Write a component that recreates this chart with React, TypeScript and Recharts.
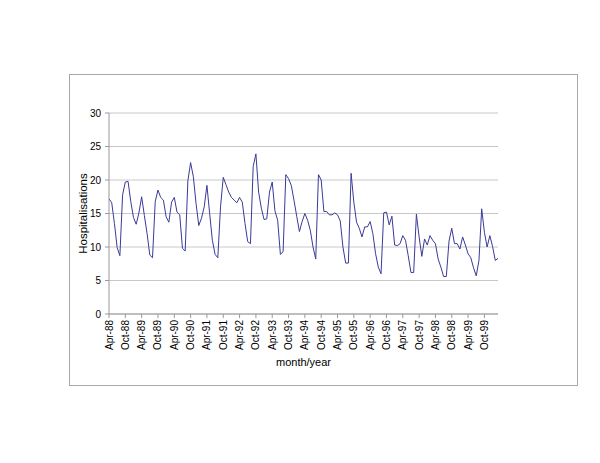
import React from 'react';
import { LineChart, Line, XAxis, YAxis, CartesianGrid } from 'recharts';

// monthly hospitalisations, Apr-88 .. Mar-00
const hospitalisations = [
  17.2, 16.6, 13.5, 9.9, 8.7, 17.8, 19.7, 19.8, 16.8, 14.4, 13.4, 15.1,
  17.5, 14.7, 12.0, 8.8, 8.4, 16.8, 18.5, 17.4, 17.0, 14.5, 13.7, 16.7,
  17.4, 15.2, 14.8, 9.8, 9.4, 19.9, 22.6, 20.5, 16.5, 13.2, 14.3, 16.0,
  19.2, 15.0, 11.0, 8.9, 8.4, 16.0, 20.4, 19.3, 18.2, 17.4, 17.0, 16.6,
  17.4, 16.7, 13.5, 10.8, 10.5, 22.0, 23.9, 18.2, 15.8, 14.1, 14.2, 18.2,
  19.7, 15.4, 14.0, 8.9, 9.3, 20.8, 20.2, 19.2, 17.0, 14.6, 12.3, 13.8,
  15.0, 14.0, 12.5, 10.0, 8.2, 20.8, 20.0, 15.3, 15.3, 14.8, 14.8, 15.1,
  14.8, 13.9, 10.0, 7.6, 7.6, 21.0, 16.7, 13.7, 12.8, 11.5, 13.0, 13.0,
  13.8, 12.0, 9.0, 7.0, 6.0, 15.1, 15.2, 13.3, 14.6, 10.3, 10.2, 10.5,
  11.7, 11.0, 8.7, 6.2, 6.2, 14.9, 11.5, 8.6, 11.2, 10.3, 11.7, 11.0,
  10.5, 8.2, 7.0, 5.6, 5.6, 10.9, 12.8, 10.5, 10.5, 9.7, 11.5, 10.3,
  9.0, 8.4, 6.9, 5.7, 8.0, 15.7, 12.2, 10.0, 11.7, 10.1, 8.0, 8.3,
];

const monthNames = ['Jan', 'Feb', 'Mar', 'Apr', 'May', 'Jun', 'Jul', 'Aug', 'Sep', 'Oct', 'Nov', 'Dec'];
const startYear = 1988;
const startMonth = 3; // April

const categories = hospitalisations.map((_, i) => {
  const m = startMonth + i;
  const yr = (startYear + Math.floor(m / 12)) % 100;
  return `${monthNames[m % 12]}-${String(yr).padStart(2, '0')}`;
});

const yTicks = [0, 5, 10, 15, 20, 25, 30];

const data = categories.map((name, i) => ({ name, value: hospitalisations[i] }));

const FONT = '"Liberation Sans", Arial, sans-serif';

const XTick = ({ x, y, payload }: any) => (
  <text
    x={x}
    y={y}
    transform={`rotate(-90, ${x}, ${y})`}
    textAnchor="end"
    dominantBaseline="central"
    fontSize={10}
    fontFamily={FONT}
    fill="#000"
  >
    {payload.value}
  </text>
);

export default function App() {
  return (
    <div style={{ position: 'absolute', left: 0, top: 0, width: 600, height: 463, background: '#fff' }}>
      <div
        style={{
          position: 'absolute',
          left: 69,
          top: 74,
          width: 509,
          height: 312,
          border: '1px solid #a8a8a8',
          boxSizing: 'border-box',
        }}
      />
      <div style={{ position: 'absolute', left: 0, top: 0 }}>
        <LineChart
          width={600}
          height={463}
          data={data}
          margin={{ top: 113, right: 102, bottom: 97, left: 69 }}
        >
          <CartesianGrid vertical={false} stroke="#c8c8c8" />
          <XAxis
            dataKey="name"
            interval={5}
            height={52}
            tick={<XTick />}
            tickSize={4}
            tickMargin={2}
            axisLine={{ stroke: '#999' }}
            tickLine={{ stroke: '#999' }}
            label={{
              value: 'month/year',
              position: 'insideBottom',
              offset: 0,
              style: { fontSize: 11, fontFamily: FONT, fill: '#000' },
            }}
          />
          <YAxis
            width={40}
            domain={[0, 30]}
            ticks={yTicks}
            tickSize={4}
            tickMargin={4}
            axisLine={{ stroke: '#999' }}
            tickLine={{ stroke: '#999' }}
            tick={{ fontSize: 10, fontFamily: FONT, fill: '#000' }}
            label={{
              value: 'Hospitalisations',
              angle: -90,
              position: 'insideLeft',
              offset: 14,
              style: { fontSize: 11.5, fontFamily: FONT, fill: '#000', textAnchor: 'middle' },
            }}
          />
          <YAxis
            yAxisId="right"
            orientation="right"
            width={0}
            domain={[0, 30]}
            tick={false}
            tickLine={false}
            axisLine={{ stroke: '#999' }}
          />
          <Line
            type="linear"
            dataKey="value"
            stroke="#3a3a99"
            strokeWidth={1}
            dot={false}
            isAnimationActive={false}
          />
        </LineChart>
      </div>
    </div>
  );
}
